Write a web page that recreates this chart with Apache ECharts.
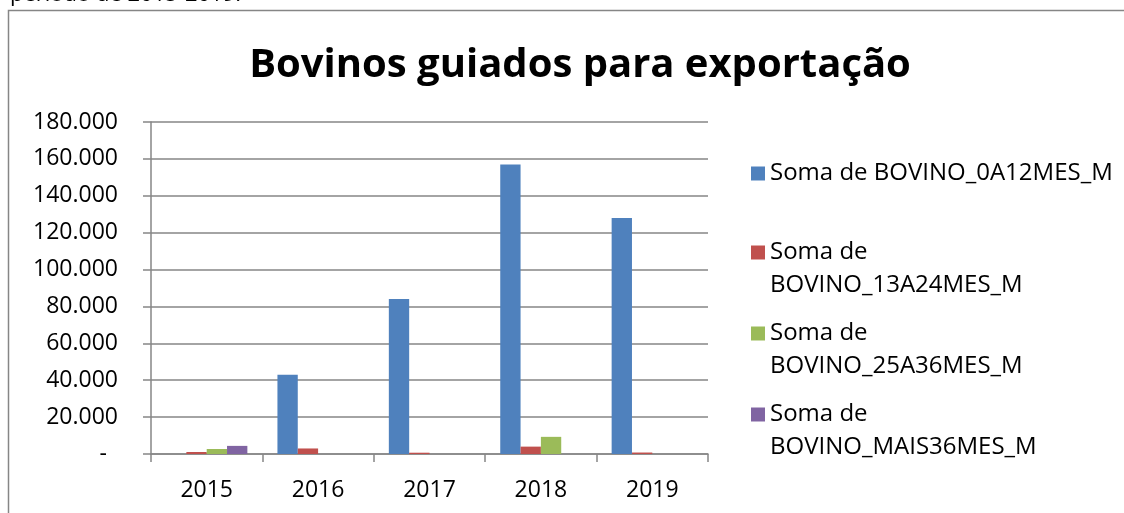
<!DOCTYPE html>
<html>
<head>
<meta charset="utf-8">
<script src="https://cdn.jsdelivr.net/npm/echarts@6/dist/echarts.min.js"></script>
<style>
  html, body { margin: 0; padding: 0; background: #fff; }
  #chart { width: 1124px; height: 513px; }
</style>
</head>
<body>
<div id="chart"></div>
<script>
// dados
const anos = ['2015', '2016', '2017', '2018', '2019'];
const bov0a12 = [0, 43000, 84000, 157000, 128000];
const bov13a24 = [1100, 3000, 700, 4000, 800];
const bov25a36 = [2700, 0, 0, 9300, 0];
const bovMais36 = [4400, 0, 0, 0, 0];
const nomes = [
  'Soma de BOVINO_0A12MES_M',
  'Soma de BOVINO_13A24MES_M',
  'Soma de BOVINO_25A36MES_M',
  'Soma de BOVINO_MAIS36MES_M'
];
const yTicks = { min: 0, max: 180000, interval: 20000 };

const FONT = 'Open Sans';
const chart = echarts.init(document.getElementById('chart'));

const fmtMilhar = v => v === 0 ? '{z|-}' : (v / 1000).toFixed(0) + '.000';

// legenda: primeiro item numa linha, os outros quebrados em duas
// (linha vazia no início para o ícone ficar alinhado com "Soma de")
const legendaTops = [157, 203, 284, 365];
const legends = nomes.map((n, i) => ({
  data: [n],
  left: 751,
  top: legendaTops[i],
  padding: 0,
  itemWidth: 14,
  itemHeight: 14,
  itemGap: 0,
  icon: 'rect',
  formatter: i === 0 ? n : '\n' + n.replace('de ', 'de\n'),
  textStyle: {
    fontFamily: FONT,
    fontSize: 24,
    color: '#000',
    lineHeight: 33
  }
}));

const option = {
  animation: false,
  color: ['#4F81BD', '#C0504D', '#9BBB59', '#8064A2'],
  title: {
    text: 'Bovinos guiados para exportação',
    left: 575,
    textAlign: 'center',
    top: 41,
    textStyle: { fontFamily: FONT, fontSize: 40, fontWeight: 'bold', color: '#000' }
  },
  legend: legends,
  grid: { left: 151, right: 416, top: 122, bottom: 59 },
  xAxis: {
    type: 'category',
    data: anos,
    axisLine: { lineStyle: { color: '#868686', width: 1.5 } },
    axisTick: { show: true, length: 8, lineStyle: { color: '#868686', width: 1.5 } },
    axisLabel: { fontFamily: FONT, fontSize: 23, color: '#000', margin: 25 }
  },
  yAxis: {
    type: 'value',
    min: yTicks.min,
    max: yTicks.max,
    interval: yTicks.interval,
    axisLine: { show: true, lineStyle: { color: '#868686', width: 1.5 } },
    axisTick: { show: true, length: 8, lineStyle: { color: '#868686', width: 1.5 } },
    splitLine: { lineStyle: { color: '#868686', width: 1.5 } },
    axisLabel: {
      fontFamily: FONT, fontSize: 23, color: '#000', margin: 33,
      formatter: fmtMilhar,
      rich: { z: { fontFamily: FONT, fontSize: 23, padding: [0, 11, 0, 0] } }
    }
  },
  series: [bov0a12, bov13a24, bov25a36, bovMais36].map((d, i) => ({
    name: nomes[i],
    type: 'bar',
    data: d,
    barGap: '0%',
    barCategoryGap: '27%'
  })),
  graphic: [
    {
      type: 'rect',
      shape: { x: 8.5, y: 10.5, width: 1200, height: 600 },
      style: { fill: null, stroke: '#868686', lineWidth: 1.5 },
      silent: true
    },
    {
      type: 'text',
      left: 10,
      top: -16,
      style: { text: 'período de 2015-2019.', fontFamily: FONT, fontSize: 22, fill: '#000' }
    }
  ]
};

chart.setOption(option);
</script>
</body>
</html>
